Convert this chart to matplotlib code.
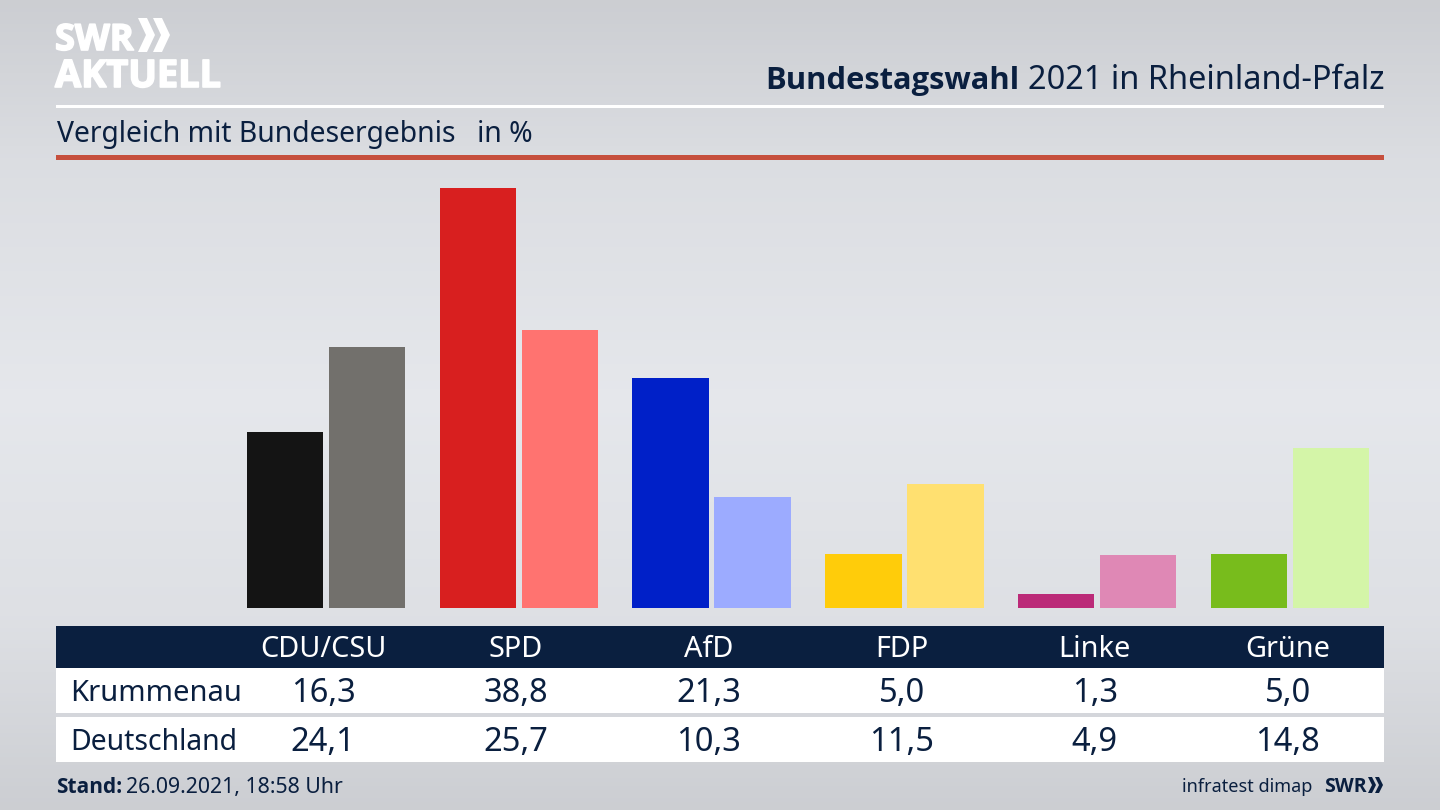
import numpy as np
import matplotlib
matplotlib.use("Agg")
import matplotlib.pyplot as plt
import matplotlib.patheffects as pe
from matplotlib.patches import Polygon, Rectangle

# Werte
parteien = ["CDU/CSU", "SPD", "AfD", "FDP", "Linke", "Grüne"]
krummenau = [16.3, 38.8, 21.3, 5.0, 1.3, 5.0]
deutschland = [24.1, 25.7, 10.3, 11.5, 4.9, 14.8]
farben_k = ["#141414", "#d81f1f", "#0020c8", "#ffcc0a", "#bb2a78", "#78bc1c"]
farben_d = ["#72706c", "#ff7370", "#9cabff", "#ffe070", "#df88b5", "#d4f5a8"]
zeilen = ["Krummenau", "Deutschland"]

NAVY = "#0a1f3f"
plt.rcParams["font.family"] = ["Noto Sans", "DejaVu Sans"]

fig = plt.figure(figsize=(14.4, 8.1), dpi=100)

# Hintergrund und Rahmen in Pixelkoordinaten
bg = fig.add_axes([0, 0, 1, 1])
bg.set_xlim(0, 1440)
bg.set_ylim(810, 0)
bg.axis("off")
verlauf = np.interp(np.linspace(0, 810, 200), [0, 160, 400, 620, 810], [0.80, 0.86, 0.90, 0.87, 0.80])
rgb = np.dstack([verlauf, verlauf + 0.008, verlauf + 0.025])
rgb = np.clip(rgb.reshape(200, 1, 3), 0, 1)
bg.imshow(rgb, extent=[0, 1440, 810, 0], aspect="auto", zorder=0)


def balken(x, y, b, h, farbe):
    bg.add_patch(Rectangle((x, y), b, h, facecolor=farbe, linewidth=0, zorder=1))


balken(56, 104.5, 1328, 3, "white")
balken(56, 155, 1328, 5, "#c64f3d")
balken(56, 626, 1328, 42, NAVY)
balken(56, 668, 1328, 45, "white")
balken(56, 717, 1328, 45, "white")

# Logo oben
dick = [pe.withStroke(linewidth=1.2, foreground="white")]
bg.text(55, 50, "SWR", color="white", fontsize=26, fontweight="bold", family="Open Sans", va="baseline", ha="left", path_effects=dick)
bg.text(55, 87, "AKTUELL", color="white", fontsize=27.3, fontweight="bold", family="Open Sans", va="baseline", ha="left", path_effects=dick)
for x0 in (138, 153):
    bg.add_patch(Polygon([(x0, 18), (x0 + 9, 18), (x0 + 17, 35), (x0 + 9, 52), (x0, 52), (x0 + 8, 35)], facecolor="white", linewidth=0, zorder=2))

# Titel
t2 = bg.text(1384, 89, "2021 in Rheinland-Pfalz", color=NAVY, fontsize=23.4, ha="right", va="baseline")
fig.canvas.draw()
bb = t2.get_window_extent()
bg.text(bb.x0 - 8, 89, "Bundestagswahl", color=NAVY, fontsize=22.2, fontweight="bold", family="Open Sans", ha="right", va="baseline")
bg.text(57, 142, "Vergleich mit Bundesergebnis", color=NAVY, fontsize=20.4, ha="left", va="baseline")
bg.text(477, 142, "in %", color=NAVY, fontsize=20.4, ha="left", va="baseline")

# Balken: 1 Einheit = 10,82 px, Gruppenabstand 192,8 px
ax = fig.add_axes([56 / 1440, 1 - 608 / 810, 1328 / 1440, 448 / 810])
ax.patch.set_alpha(0)
ax.set_xlim((56 - 326) / 192.8, (1384 - 326) / 192.8)
ax.set_ylim(0, 448 / 10.82)
ax.axis("off")
x = np.arange(len(parteien))
ax.bar(x - 0.2127, krummenau, width=0.397, color=farben_k)
ax.bar(x + 0.2127, deutschland, width=0.397, color=farben_d)

# Tabelle
for i, p in enumerate(parteien):
    px = 323 + 192.95 * i
    bg.text(px, 657, p, color="white", fontsize=20.8, ha="center", va="baseline", zorder=3)
    bg.text(px, 702, f"{krummenau[i]:.1f}".replace(".", ","), color=NAVY, fontsize=23.5, ha="center", va="baseline", zorder=3)
    bg.text(px, 751, f"{deutschland[i]:.1f}".replace(".", ","), color=NAVY, fontsize=23.5, ha="center", va="baseline", zorder=3)
bg.text(70, 701, zeilen[0], color=NAVY, fontsize=21, ha="left", va="baseline", zorder=3)
bg.text(70, 750, zeilen[1], color=NAVY, fontsize=20.4, ha="left", va="baseline", zorder=3)

# Fusszeile
bg.text(56, 793, "Stand:", color=NAVY, fontsize=15, fontweight="bold", family="Open Sans", ha="left", va="baseline")
bg.text(126, 793, "26.09.2021, 18:58 Uhr", color=NAVY, fontsize=15.3, ha="left", va="baseline")
bg.text(1312, 792, "infratest dimap", color=NAVY, fontsize=13, ha="right", va="baseline")
bg.text(1324, 792, "SWR", color=NAVY, fontsize=14, fontweight="bold", family="Open Sans", ha="left", va="baseline")
for x0 in (1368, 1375):
    bg.add_patch(Polygon([(x0, 777), (x0 + 4, 777), (x0 + 8, 785), (x0 + 4, 793), (x0, 793), (x0 + 4, 785)], facecolor=NAVY, linewidth=0, zorder=2))

fig.savefig("out.png", dpi=100)
